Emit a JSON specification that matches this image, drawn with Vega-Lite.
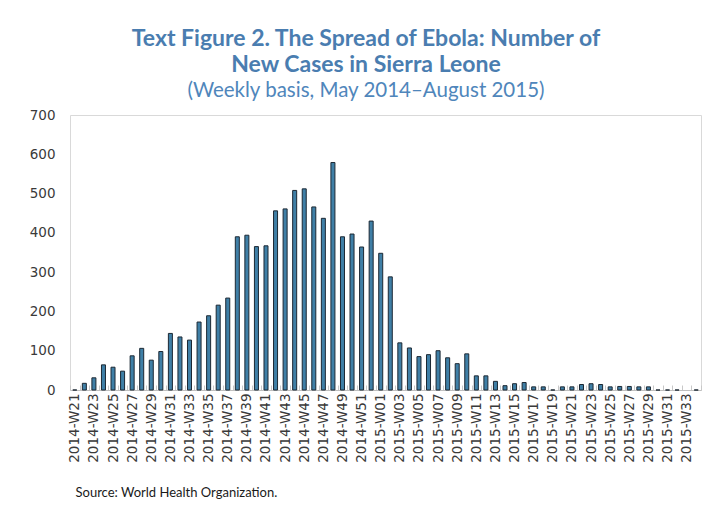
{
  "$schema": "https://vega.github.io/schema/vega-lite/v6.json",
  "autosize": {"type": "none"},
  "width": 631,
  "height": 275,
  "padding": {"left": 70, "top": 115, "right": 4, "bottom": 120},
  "background": "white",
  "title": {
    "text": ["Text Figure 2. The Spread of Ebola: Number of", "New Cases in Sierra Leone"],
    "subtitle": "(Weekly basis, May 2014–August  2015)",
    "anchor": "middle",
    "frame": "bounds",
    "font": "Lato",
    "fontSize": 23,
    "fontWeight": "bold",
    "lineHeight": 26,
    "color": "#4a7db0",
    "subtitleFont": "Lato",
    "subtitleFontSize": 20.5,
    "subtitleFontWeight": "normal",
    "subtitleColor": "#4f86bb",
    "subtitlePadding": 4,
    "offset": 7
  },
  "data": {
    "values": [
      {"week": "2014-W21", "cases": 0},
      {"week": "2014-W22", "cases": 17},
      {"week": "2014-W23", "cases": 31},
      {"week": "2014-W24", "cases": 64},
      {"week": "2014-W25", "cases": 58},
      {"week": "2014-W26", "cases": 48},
      {"week": "2014-W27", "cases": 87},
      {"week": "2014-W28", "cases": 106},
      {"week": "2014-W29", "cases": 76},
      {"week": "2014-W30", "cases": 98},
      {"week": "2014-W31", "cases": 144},
      {"week": "2014-W32", "cases": 135},
      {"week": "2014-W33", "cases": 127},
      {"week": "2014-W34", "cases": 173},
      {"week": "2014-W35", "cases": 189},
      {"week": "2014-W36", "cases": 216},
      {"week": "2014-W37", "cases": 234},
      {"week": "2014-W38", "cases": 390},
      {"week": "2014-W39", "cases": 394},
      {"week": "2014-W40", "cases": 365},
      {"week": "2014-W41", "cases": 367},
      {"week": "2014-W42", "cases": 456},
      {"week": "2014-W43", "cases": 461},
      {"week": "2014-W44", "cases": 508},
      {"week": "2014-W45", "cases": 512},
      {"week": "2014-W46", "cases": 466},
      {"week": "2014-W47", "cases": 437},
      {"week": "2014-W48", "cases": 579},
      {"week": "2014-W49", "cases": 390},
      {"week": "2014-W50", "cases": 397},
      {"week": "2014-W51", "cases": 364},
      {"week": "2014-W52", "cases": 430},
      {"week": "2015-W01", "cases": 348},
      {"week": "2015-W02", "cases": 288},
      {"week": "2015-W03", "cases": 120},
      {"week": "2015-W04", "cases": 107},
      {"week": "2015-W05", "cases": 85},
      {"week": "2015-W06", "cases": 90},
      {"week": "2015-W07", "cases": 100},
      {"week": "2015-W08", "cases": 82},
      {"week": "2015-W09", "cases": 67},
      {"week": "2015-W10", "cases": 92},
      {"week": "2015-W11", "cases": 36},
      {"week": "2015-W12", "cases": 36},
      {"week": "2015-W13", "cases": 22},
      {"week": "2015-W14", "cases": 11},
      {"week": "2015-W15", "cases": 16},
      {"week": "2015-W16", "cases": 19},
      {"week": "2015-W17", "cases": 8},
      {"week": "2015-W18", "cases": 8},
      {"week": "2015-W19", "cases": 0},
      {"week": "2015-W20", "cases": 8},
      {"week": "2015-W21", "cases": 8},
      {"week": "2015-W22", "cases": 14},
      {"week": "2015-W23", "cases": 16},
      {"week": "2015-W24", "cases": 14},
      {"week": "2015-W25", "cases": 8},
      {"week": "2015-W26", "cases": 9},
      {"week": "2015-W27", "cases": 9},
      {"week": "2015-W28", "cases": 8},
      {"week": "2015-W29", "cases": 8},
      {"week": "2015-W30", "cases": 0},
      {"week": "2015-W31", "cases": 0},
      {"week": "2015-W32", "cases": 0},
      {"week": "2015-W33", "cases": null},
      {"week": "2015-W34", "cases": 0}
    ]
  },
  "mark": {
    "type": "bar",
    "width": {"band": 0.42},
    "fill": "#3f7fa6",
    "stroke": "#1c2833",
    "strokeWidth": 1,
    "invalid": "show"
  },
  "encoding": {
    "x": {
      "field": "week",
      "type": "nominal",
      "sort": null,
      "scale": {"paddingInner": 0, "paddingOuter": 0},
      "axis": {
        "title": "Source: World Health Organization.",
        "titleFont": "Lato",
        "titleFontSize": 13,
        "titleFontWeight": "normal",
        "titleColor": "#1a1a1a",
        "titleAnchor": "start",
        "titleAlign": "left",
        "titleBaseline": "alphabetic",
        "titleX": 5,
        "titleY": 106,
        "labelAngle": -90,
        "labelFont": "DejaVu Sans",
        "labelFontSize": 13.5,
        "labelColor": "#3a3a3a",
        "labelPadding": 8,
        "labelExpr": "toNumber(slice(datum.label, 6)) % 2 === 1 ? datum.label : ''",
        "tickBand": "extent",
        "tickSize": -5,
        "tickColor": "#c8c8c8",
        "domainColor": "#bfbfbf"
      }
    },
    "y": {
      "field": "cases",
      "type": "quantitative",
      "scale": {"domain": [0, 700], "nice": false},
      "axis": {
        "title": null,
        "values": [0, 100, 200, 300, 400, 500, 600, 700],
        "grid": false,
        "domain": false,
        "ticks": false,
        "labelFont": "DejaVu Sans",
        "labelFontSize": 13.5,
        "labelColor": "#3a3a3a",
        "labelPadding": 15
      }
    },
    "strokeOpacity": {
      "condition": {"test": "datum.cases === null", "value": 0},
      "value": 1
    },
    "fillOpacity": {
      "condition": {"test": "datum.cases === null", "value": 0},
      "value": 1
    }
  },
  "config": {
    "view": {"stroke": "#d9d9d9", "strokeWidth": 1}
  }
}
